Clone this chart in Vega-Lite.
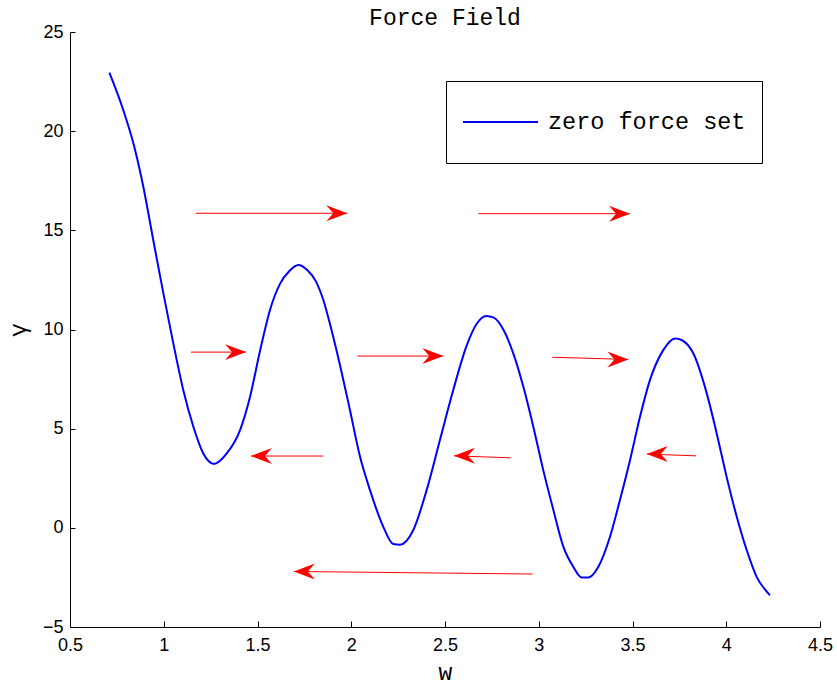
{
  "$schema": "https://vega.github.io/schema/vega-lite/v6.json",
  "width": 750,
  "height": 595,
  "autosize": {"type": "none"},
  "padding": {"left": 70, "top": 32, "right": 17, "bottom": 58},
  "background": "white",
  "title": {
    "text": "Force Field",
    "font": "Liberation Mono",
    "fontSize": 23,
    "fontWeight": "normal",
    "color": "black",
    "anchor": "middle",
    "frame": "group",
    "baseline": "alphabetic",
    "offset": 0,
    "dy": 25
  },
  "config": {
    "view": {"stroke": null},
    "axis": {
      "domainColor": "black",
      "domainWidth": 1,
      "tickColor": "black",
      "tickWidth": 1,
      "grid": false,
      "labelFont": "Liberation Sans",
      "labelFontSize": 18,
      "labelColor": "black",
      "titleFont": "Liberation Mono",
      "titleFontSize": 23,
      "titleFontWeight": "normal",
      "titleColor": "black"
    }
  },
  "datasets": {
    "curve": [
      {"w": 0.71, "g": 22.95, "series": "zero force set"},
      {"w": 0.784, "g": 21.07, "series": "zero force set"},
      {"w": 0.838, "g": 19.39, "series": "zero force set"},
      {"w": 0.891, "g": 17.2, "series": "zero force set"},
      {"w": 0.944, "g": 14.51, "series": "zero force set"},
      {"w": 0.998, "g": 11.82, "series": "zero force set"},
      {"w": 1.051, "g": 9.3, "series": "zero force set"},
      {"w": 1.104, "g": 6.95, "series": "zero force set"},
      {"w": 1.158, "g": 5.1, "series": "zero force set"},
      {"w": 1.211, "g": 3.75, "series": "zero force set"},
      {"w": 1.268, "g": 3.22, "series": "zero force set"},
      {"w": 1.336, "g": 3.75, "series": "zero force set"},
      {"w": 1.407, "g": 4.93, "series": "zero force set"},
      {"w": 1.46, "g": 6.6, "series": "zero force set"},
      {"w": 1.513, "g": 8.9, "series": "zero force set"},
      {"w": 1.567, "g": 11.0, "series": "zero force set"},
      {"w": 1.62, "g": 12.3, "series": "zero force set"},
      {"w": 1.67, "g": 12.95, "series": "zero force set"},
      {"w": 1.718, "g": 13.25, "series": "zero force set"},
      {"w": 1.765, "g": 13.0, "series": "zero force set"},
      {"w": 1.81, "g": 12.45, "series": "zero force set"},
      {"w": 1.851, "g": 11.49, "series": "zero force set"},
      {"w": 1.894, "g": 10.0, "series": "zero force set"},
      {"w": 1.94, "g": 8.2, "series": "zero force set"},
      {"w": 1.993, "g": 5.94, "series": "zero force set"},
      {"w": 2.047, "g": 3.58, "series": "zero force set"},
      {"w": 2.1, "g": 1.9, "series": "zero force set"},
      {"w": 2.171, "g": 0.05, "series": "zero force set"},
      {"w": 2.224, "g": -0.82, "series": "zero force set"},
      {"w": 2.26, "g": -0.85, "series": "zero force set"},
      {"w": 2.331, "g": -0.11, "series": "zero force set"},
      {"w": 2.402, "g": 1.9, "series": "zero force set"},
      {"w": 2.473, "g": 4.43, "series": "zero force set"},
      {"w": 2.544, "g": 6.95, "series": "zero force set"},
      {"w": 2.616, "g": 9.2, "series": "zero force set"},
      {"w": 2.67, "g": 10.3, "series": "zero force set"},
      {"w": 2.72, "g": 10.68, "series": "zero force set"},
      {"w": 2.76, "g": 10.6, "series": "zero force set"},
      {"w": 2.811, "g": 10.0, "series": "zero force set"},
      {"w": 2.864, "g": 8.8, "series": "zero force set"},
      {"w": 2.918, "g": 7.11, "series": "zero force set"},
      {"w": 2.971, "g": 5.1, "series": "zero force set"},
      {"w": 3.024, "g": 2.91, "series": "zero force set"},
      {"w": 3.078, "g": 0.9, "series": "zero force set"},
      {"w": 3.131, "g": -0.95, "series": "zero force set"},
      {"w": 3.184, "g": -1.96, "series": "zero force set"},
      {"w": 3.229, "g": -2.5, "series": "zero force set"},
      {"w": 3.264, "g": -2.5, "series": "zero force set"},
      {"w": 3.318, "g": -1.96, "series": "zero force set"},
      {"w": 3.38, "g": -0.45, "series": "zero force set"},
      {"w": 3.433, "g": 1.4, "series": "zero force set"},
      {"w": 3.487, "g": 3.42, "series": "zero force set"},
      {"w": 3.54, "g": 5.6, "series": "zero force set"},
      {"w": 3.593, "g": 7.45, "series": "zero force set"},
      {"w": 3.664, "g": 8.96, "series": "zero force set"},
      {"w": 3.727, "g": 9.55, "series": "zero force set"},
      {"w": 3.762, "g": 9.47, "series": "zero force set"},
      {"w": 3.824, "g": 8.8, "series": "zero force set"},
      {"w": 3.896, "g": 6.78, "series": "zero force set"},
      {"w": 3.949, "g": 4.76, "series": "zero force set"},
      {"w": 4.002, "g": 2.57, "series": "zero force set"},
      {"w": 4.056, "g": 0.56, "series": "zero force set"},
      {"w": 4.109, "g": -1.12, "series": "zero force set"},
      {"w": 4.162, "g": -2.47, "series": "zero force set"},
      {"w": 4.224, "g": -3.3, "series": "zero force set"},
      {"w": 4.233, "g": -3.4, "series": "zero force set"}
    ],
    "arrows": [
      {"x0": 1.17, "y0": 15.86, "x1": 1.979, "y1": 15.86, "dir": "right"},
      {"x0": 2.678, "y0": 15.84, "x1": 3.487, "y1": 15.84, "dir": "right"},
      {"x0": 1.145, "y0": 8.86, "x1": 1.439, "y1": 8.86, "dir": "right"},
      {"x0": 2.032, "y0": 8.66, "x1": 2.491, "y1": 8.66, "dir": "right"},
      {"x0": 3.072, "y0": 8.6, "x1": 3.478, "y1": 8.49, "dir": "right"},
      {"x0": 1.851, "y0": 3.62, "x1": 1.465, "y1": 3.62, "dir": "left"},
      {"x0": 2.85, "y0": 3.53, "x1": 2.548, "y1": 3.63, "dir": "left"},
      {"x0": 3.839, "y0": 3.63, "x1": 3.576, "y1": 3.72, "dir": "left"},
      {"x0": 2.967, "y0": -2.33, "x1": 1.694, "y1": -2.2, "dir": "left"}
    ]
  },
  "layer": [
    {
      "data": {"name": "arrows"},
      "mark": {"type": "rule", "color": "#ff0000", "strokeWidth": 1},
      "encoding": {
        "x": {"field": "x0", "type": "quantitative", "title": "w"},
        "y": {"field": "y0", "type": "quantitative", "title": "γ"},
        "x2": {"field": "x1"},
        "y2": {"field": "y1"}
      }
    },
    {
      "data": {"name": "arrows"},
      "mark": {"type": "point", "filled": true, "color": "#ff0000", "opacity": 1, "size": 441, "strokeWidth": 0},
      "encoding": {
        "x": {"field": "x1", "type": "quantitative", "title": "w"},
        "y": {"field": "y1", "type": "quantitative", "title": "γ"},
        "shape": {
          "field": "dir",
          "type": "nominal",
          "scale": {
            "domain": ["right", "left"],
            "range": ["M0,0L-2,-0.76L-1.33,0L-2,0.76Z", "M0,0L2,-0.76L1.33,0L2,0.76Z"]
          },
          "legend": null
        }
      }
    },
    {
      "data": {"name": "curve"},
      "mark": {"type": "line", "strokeWidth": 2, "interpolate": "monotone"},
      "encoding": {
        "x": {
          "field": "w",
          "type": "quantitative",
          "title": "w",
          "scale": {"domain": [0.5, 4.5], "nice": false, "zero": false},
          "axis": {
            "values": [0.5, 1, 1.5, 2, 2.5, 3, 3.5, 4, 4.5],
            "format": "~g",
            "tickSize": -6,
            "labelPadding": 15,
            "titlePadding": 7,
            "labelFlush": false
          }
        },
        "y": {
          "field": "g",
          "type": "quantitative",
          "title": "γ",
          "scale": {"domain": [-5, 25], "nice": false, "zero": false},
          "axis": {
            "values": [-5, 0, 5, 10, 15, 20, 25],
            "tickSize": -5,
            "labelPadding": 12,
            "titlePadding": 12,
            "labelFlush": false
          }
        },
        "color": {
          "field": "series",
          "type": "nominal",
          "scale": {"range": ["#0000ff"]},
          "legend": {
            "title": null,
            "orient": "none",
            "legendX": 376,
            "legendY": 49,
            "symbolType": "stroke",
            "symbolSize": 5625,
            "symbolStrokeWidth": 2,
            "labelFont": "Liberation Mono",
            "labelFontSize": 23.5,
            "labelColor": "black",
            "labelOffset": 9,
            "labelLimit": 0,
            "strokeColor": "black",
            "fillColor": "white",
            "padding": 16,
            "clipHeight": 50
          }
        }
      }
    }
  ]
}
